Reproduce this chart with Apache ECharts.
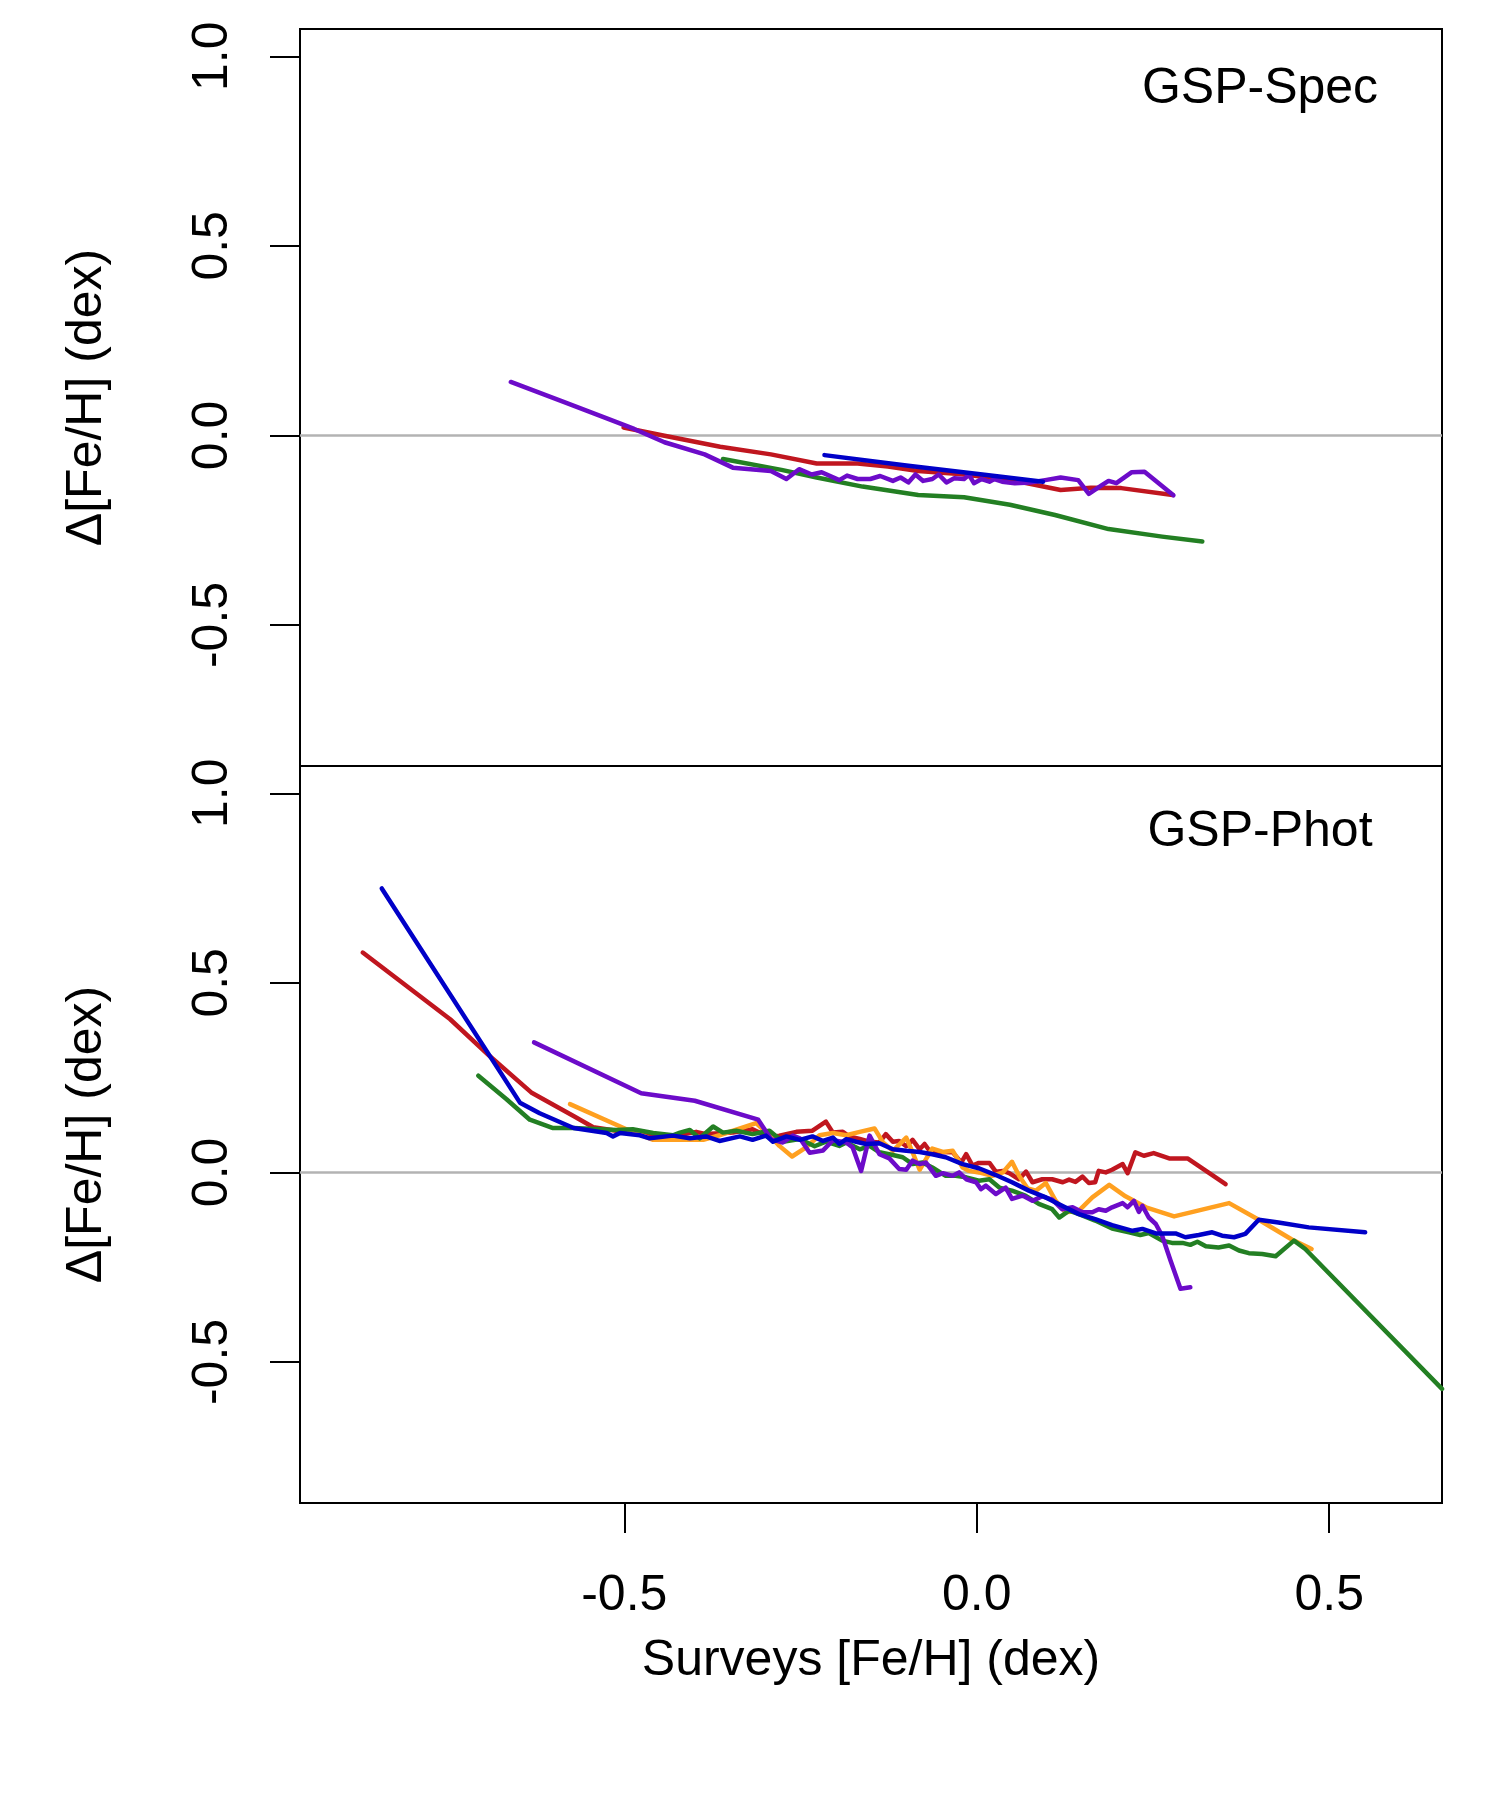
<!DOCTYPE html>
<html lang="en">
<head>
    <meta charset="UTF-8">
    <title>GSP-Spec / GSP-Phot [Fe/H] residuals</title>
    <script src="https://cdn.jsdelivr.net/npm/echarts@6.0.0/dist/echarts.min.js"></script>
    <style>
        body { margin: 0; background: #fff; }
    </style>
</head>
<body>
<div id="main" style="width: 1500px;height:1800px;"></div>
<script type="text/javascript">
// axis settings
var xMin = -0.96, xMax = 0.66;
var yMin = -0.872, yMax = 1.072;
var xTicks = [-0.5, 0.0, 0.5];
var yTicks = [-0.5, 0.0, 0.5, 1.0];
var panelLabels = ['GSP-Spec', 'GSP-Phot'];

// top panel: GSP-Spec  ([survey Fe/H, delta Fe/H])
var specRed = [[-0.501,0.021],[-0.443,-0.001],[-0.364,-0.030],[-0.292,-0.050],[-0.227,-0.074],[-0.169,-0.074],[-0.126,-0.082],[-0.083,-0.094],[-0.025,-0.102],[0.047,-0.117],[0.119,-0.144],[0.162,-0.138],[0.205,-0.139],[0.278,-0.157]];
var specGreen = [[-0.360,-0.062],[-0.277,-0.091],[-0.227,-0.111],[-0.162,-0.135],[-0.083,-0.157],[-0.018,-0.163],[0.047,-0.183],[0.111,-0.210],[0.187,-0.247],[0.263,-0.267],[0.320,-0.280]];
var specPurple = [[-0.661,0.141],[-0.587,0.089],[-0.522,0.043],[-0.486,0.017],[-0.443,-0.018],[-0.386,-0.050],[-0.346,-0.085],[-0.292,-0.094],[-0.270,-0.115],[-0.252,-0.089],[-0.234,-0.103],[-0.220,-0.097],[-0.195,-0.118],[-0.184,-0.106],[-0.169,-0.115],[-0.151,-0.115],[-0.137,-0.107],[-0.119,-0.120],[-0.108,-0.111],[-0.097,-0.124],[-0.087,-0.103],[-0.076,-0.120],[-0.063,-0.115],[-0.054,-0.103],[-0.043,-0.124],[-0.032,-0.113],[-0.018,-0.115],[-0.011,-0.104],[-0.004,-0.126],[0.007,-0.115],[0.018,-0.122],[0.025,-0.115],[0.036,-0.122],[0.054,-0.126],[0.076,-0.124],[0.097,-0.118],[0.119,-0.111],[0.144,-0.118],[0.159,-0.154],[0.177,-0.132],[0.187,-0.120],[0.198,-0.126],[0.220,-0.097],[0.238,-0.096],[0.279,-0.158]];
var specBlue = [[-0.216,-0.052],[-0.097,-0.080],[0.011,-0.104],[0.094,-0.122]];

// bottom panel: GSP-Phot
var photRed = [[-0.871,0.580],[-0.747,0.404],[-0.691,0.307],[-0.632,0.211],[-0.572,0.149],[-0.544,0.119],[-0.502,0.107],[-0.431,0.095],[-0.398,0.107],[-0.384,0.101],[-0.346,0.105],[-0.318,0.114],[-0.294,0.092],[-0.280,0.097],[-0.256,0.107],[-0.233,0.110],[-0.214,0.134],[-0.204,0.105],[-0.190,0.107],[-0.181,0.095],[-0.166,0.088],[-0.152,0.081],[-0.138,0.079],[-0.129,0.101],[-0.119,0.081],[-0.110,0.083],[-0.100,0.069],[-0.091,0.086],[-0.081,0.061],[-0.074,0.075],[-0.067,0.057],[-0.053,0.054],[-0.034,0.053],[-0.022,0.026],[-0.015,0.048],[-0.006,0.018],[0.003,0.025],[0.018,0.025],[0.027,0.002],[0.037,0.004],[0.046,-0.002],[0.060,-0.018],[0.070,0.002],[0.079,-0.026],[0.093,-0.018],[0.107,-0.018],[0.122,-0.026],[0.131,-0.019],[0.140,-0.025],[0.150,-0.011],[0.159,-0.028],[0.168,-0.026],[0.173,0.004],[0.183,0.000],[0.192,0.007],[0.207,0.022],[0.214,-0.002],[0.225,0.053],[0.237,0.044],[0.251,0.051],[0.273,0.037],[0.299,0.037],[0.353,-0.031]];
var photOrange = [[-0.577,0.180],[-0.497,0.114],[-0.459,0.086],[-0.388,0.086],[-0.365,0.098],[-0.313,0.130],[-0.294,0.098],[-0.280,0.070],[-0.262,0.042],[-0.242,0.066],[-0.223,0.098],[-0.204,0.104],[-0.185,0.098],[-0.166,0.107],[-0.145,0.116],[-0.133,0.079],[-0.119,0.057],[-0.100,0.092],[-0.091,0.053],[-0.081,0.007],[-0.072,0.035],[-0.063,0.063],[-0.048,0.054],[-0.034,0.057],[-0.020,0.013],[-0.011,0.004],[0.003,0.000],[0.022,-0.009],[0.037,0.000],[0.050,0.028],[0.060,-0.009],[0.072,-0.042],[0.084,-0.048],[0.098,-0.028],[0.112,-0.075],[0.126,-0.105],[0.145,-0.101],[0.164,-0.066],[0.188,-0.033],[0.211,-0.063],[0.240,-0.092],[0.280,-0.116],[0.358,-0.081],[0.400,-0.125],[0.447,-0.177],[0.475,-0.202]];
var photGreen = [[-0.707,0.255],[-0.667,0.193],[-0.634,0.139],[-0.601,0.117],[-0.572,0.117],[-0.535,0.114],[-0.511,0.112],[-0.488,0.114],[-0.459,0.104],[-0.431,0.098],[-0.421,0.105],[-0.407,0.112],[-0.393,0.090],[-0.374,0.121],[-0.360,0.105],[-0.341,0.110],[-0.318,0.101],[-0.294,0.110],[-0.275,0.081],[-0.251,0.088],[-0.230,0.069],[-0.214,0.081],[-0.195,0.070],[-0.185,0.079],[-0.166,0.061],[-0.152,0.070],[-0.138,0.053],[-0.119,0.046],[-0.105,0.040],[-0.091,0.022],[-0.077,0.026],[-0.063,0.013],[-0.044,-0.009],[-0.030,-0.009],[-0.015,-0.013],[0.003,-0.022],[0.018,-0.018],[0.032,-0.040],[0.050,-0.048],[0.069,-0.061],[0.088,-0.083],[0.107,-0.097],[0.117,-0.119],[0.131,-0.101],[0.145,-0.110],[0.168,-0.127],[0.192,-0.148],[0.216,-0.158],[0.232,-0.165],[0.244,-0.160],[0.263,-0.180],[0.277,-0.186],[0.292,-0.186],[0.303,-0.191],[0.313,-0.183],[0.325,-0.195],[0.343,-0.198],[0.358,-0.193],[0.372,-0.206],[0.386,-0.213],[0.405,-0.215],[0.424,-0.221],[0.450,-0.180],[0.466,-0.202],[0.660,-0.571]];
var photPurple = [[-0.628,0.343],[-0.476,0.209],[-0.400,0.189],[-0.310,0.139],[-0.292,0.088],[-0.275,0.079],[-0.261,0.097],[-0.251,0.090],[-0.237,0.052],[-0.218,0.058],[-0.204,0.085],[-0.185,0.079],[-0.176,0.066],[-0.164,0.004],[-0.152,0.097],[-0.138,0.048],[-0.124,0.037],[-0.110,0.009],[-0.100,0.007],[-0.091,0.031],[-0.081,0.022],[-0.072,0.026],[-0.058,-0.009],[-0.048,-0.002],[-0.034,-0.009],[-0.025,0.000],[-0.015,-0.018],[-0.001,-0.026],[0.006,-0.044],[0.013,-0.035],[0.027,-0.057],[0.041,-0.040],[0.050,-0.070],[0.065,-0.061],[0.079,-0.075],[0.093,-0.063],[0.107,-0.072],[0.121,-0.097],[0.136,-0.092],[0.150,-0.105],[0.164,-0.105],[0.173,-0.097],[0.183,-0.101],[0.192,-0.092],[0.207,-0.081],[0.214,-0.092],[0.223,-0.075],[0.230,-0.104],[0.235,-0.088],[0.244,-0.119],[0.254,-0.136],[0.263,-0.167],[0.275,-0.233],[0.289,-0.307],[0.303,-0.303]];
var photBlue = [[-0.844,0.749],[-0.648,0.184],[-0.620,0.156],[-0.572,0.117],[-0.525,0.104],[-0.516,0.095],[-0.506,0.104],[-0.478,0.098],[-0.464,0.090],[-0.431,0.097],[-0.407,0.090],[-0.384,0.095],[-0.365,0.083],[-0.336,0.095],[-0.318,0.086],[-0.299,0.097],[-0.289,0.081],[-0.270,0.095],[-0.251,0.086],[-0.233,0.095],[-0.218,0.083],[-0.204,0.092],[-0.195,0.075],[-0.185,0.088],[-0.171,0.081],[-0.157,0.075],[-0.138,0.077],[-0.119,0.061],[-0.100,0.057],[-0.081,0.054],[-0.063,0.048],[-0.044,0.040],[-0.020,0.022],[0.003,0.011],[0.027,-0.007],[0.050,-0.026],[0.074,-0.048],[0.098,-0.066],[0.121,-0.088],[0.145,-0.110],[0.168,-0.123],[0.192,-0.139],[0.221,-0.154],[0.235,-0.149],[0.254,-0.161],[0.282,-0.161],[0.296,-0.171],[0.315,-0.165],[0.334,-0.158],[0.348,-0.167],[0.365,-0.171],[0.381,-0.162],[0.400,-0.125],[0.428,-0.132],[0.471,-0.145],[0.551,-0.158]];

var RED = '#C0161F', GREEN = '#237F23', BLUE = '#0000C8', PURPLE = '#6C0BC9', ORANGE = '#FFA020';
var FONT = 'Liberation Sans, Arial, Helvetica, sans-serif';

var myChart = echarts.init(document.getElementById('main'));

function makeX(idx, showIt) {
    return {
        type: 'value', gridIndex: idx, min: xMin, max: xMax,
        name: showIt ? 'Surveys [Fe/H] (dex)' : '',
        nameLocation: 'middle', nameGap: 133,
        nameTextStyle: { fontSize: 50, color: '#000', fontFamily: FONT },
        axisLine: { show: false, onZero: false },
        splitLine: { show: false },
        axisTick: { show: showIt, customValues: xTicks, length: 30, lineStyle: { color: '#000', width: 2 } },
        axisLabel: {
            show: showIt, customValues: xTicks, margin: 68,
            fontSize: 50, color: '#000', fontFamily: FONT,
            formatter: function (v) { return v.toFixed(1); }
        }
    };
}

function makeY(idx) {
    return {
        type: 'value', gridIndex: idx, min: yMin, max: yMax,
        name: '\u0394[Fe/H] (dex)',
        nameLocation: 'middle', nameGap: 188, nameRotate: 90,
        nameTextStyle: { fontSize: 50, color: '#000', fontFamily: FONT },
        axisLine: { show: false, onZero: false },
        splitLine: { show: false },
        axisTick: { show: true, customValues: yTicks, length: 30, lineStyle: { color: '#000', width: 2 } },
        axisLabel: {
            show: true, customValues: yTicks, rotate: 90, margin: 62,
            fontSize: 50, color: '#000', fontFamily: FONT,
            formatter: function (v) { return v.toFixed(1); }
        }
    };
}

var zeroLine = {
    silent: true, symbol: 'none', z: 1,
    label: { show: false },
    lineStyle: { color: '#B3B3B3', width: 2.5, type: 'solid' },
    data: [{ yAxis: 0 }]
};

function lineSeries(data, color, idx, withZero) {
    var s = {
        type: 'line', data: data, xAxisIndex: idx, yAxisIndex: idx,
        showSymbol: false, symbol: 'none', silent: true, z: 2,
        lineStyle: { color: color, width: 4.5, join: 'round', cap: 'round' },
        emphasis: { disabled: true }
    };
    if (withZero) s.markLine = zeroLine;
    return s;
}

myChart.setOption({
    animation: false,
    backgroundColor: '#fff',
    grid: [
        { left: 300, top: 29, width: 1142, height: 737, show: true, borderColor: '#000', borderWidth: 2, backgroundColor: 'transparent' },
        { left: 300, top: 766, width: 1142, height: 737, show: true, borderColor: '#000', borderWidth: 2, backgroundColor: 'transparent' }
    ],
    xAxis: [makeX(0, false), makeX(1, true)],
    yAxis: [makeY(0), makeY(1)],
    graphic: [
        { type: 'text', x: 1260, y: 89, style: { text: panelLabels[0], fontSize: 50, fontFamily: FONT, fill: '#000', textAlign: 'center', textVerticalAlign: 'middle' } },
        { type: 'text', x: 1260, y: 832, style: { text: panelLabels[1], fontSize: 50, fontFamily: FONT, fill: '#000', textAlign: 'center', textVerticalAlign: 'middle' } }
    ],
    series: [
        lineSeries(specRed, RED, 0, true),
        lineSeries(specGreen, GREEN, 0, false),
        lineSeries(specPurple, PURPLE, 0, false),
        lineSeries(specBlue, BLUE, 0, false),
        lineSeries(photRed, RED, 1, true),
        lineSeries(photOrange, ORANGE, 1, false),
        lineSeries(photGreen, GREEN, 1, false),
        lineSeries(photPurple, PURPLE, 1, false),
        lineSeries(photBlue, BLUE, 1, false)
    ]
});
</script>
</body>
</html>
